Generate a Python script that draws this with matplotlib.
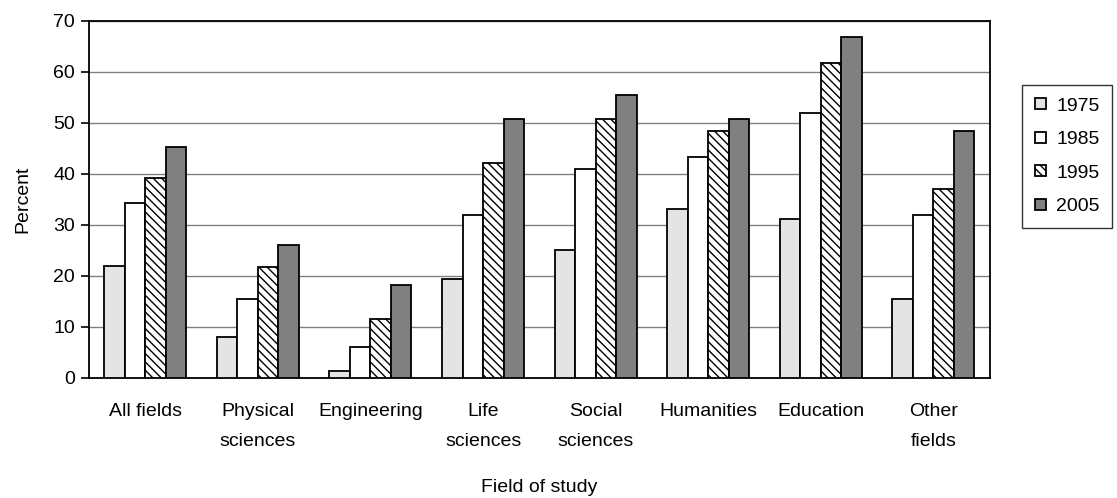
import numpy as np
import matplotlib
matplotlib.use('Agg')
import matplotlib.pyplot as plt

plt.rcParams['font.family'] = ['Liberation Sans', 'DejaVu Sans']
plt.rcParams['hatch.linewidth'] = 1.0

# 데이터
fields = ["All fields", "Physical\nsciences", "Engineering", "Life\nsciences",
          "Social\nsciences", "Humanities", "Education", "Other\nfields"]
years = ["1975", "1985", "1995", "2005"]
v1975 = [22, 8, 1.4, 19.5, 25, 33.1, 31.2, 15.5]
v1985 = [34.4, 15.5, 6.1, 32, 40.9, 43.4, 51.9, 32]
v1995 = [39.3, 21.8, 11.6, 42.1, 50.8, 48.4, 61.8, 37.1]
v2005 = [45.3, 26.1, 18.2, 50.8, 55.5, 50.8, 66.8, 48.4]
series = [v1975, v1985, v1995, v2005]

styles = [
    dict(facecolor='#e4e4e4', hatch=None),
    dict(facecolor='white', hatch=None),
    dict(facecolor='white', hatch='\\\\\\\\'),
    dict(facecolor='#808080', hatch=None),
]

fig = plt.figure(figsize=(11.17, 4.98), dpi=100)
ax = fig.add_axes([0.0797, 0.241, 0.8063, 0.717])

x = np.arange(len(fields))
w = 0.182
for i, (vals, st) in enumerate(zip(series, styles)):
    ax.bar(x + (i - 1.5) * w, vals, w, label=years[i], facecolor=st['facecolor'],
           hatch=st['hatch'], edgecolor='black', linewidth=1.3, zorder=3)

ax.set_xlim(-0.5, len(fields) - 0.5)
ax.set_ylim(0, 70)
ax.set_yticks(range(0, 71, 10))
ax.yaxis.grid(True, color='#808080', linewidth=1.0, zorder=0)
ax.set_xticks(x)
ax.set_xticklabels(fields, fontsize=14, linespacing=2.0)
ax.tick_params(axis='x', length=0, pad=18)
ax.tick_params(axis='y', labelsize=14, length=6, width=1.2, pad=4)
for s in ax.spines.values():
    s.set_linewidth(1.3)

ax.set_ylabel("Percent", fontsize=14, labelpad=16)
ax.set_xlabel("Field of study", fontsize=14, labelpad=21)

leg = fig.legend(loc='upper left', bbox_to_anchor=(0.915, 0.829), fontsize=14,
                 frameon=True, fancybox=False, edgecolor='black', handlelength=0.6,
                 handleheight=0.5, handletextpad=0.5, labelspacing=0.85,
                 borderpad=0.65, borderaxespad=0)
leg.get_frame().set_linewidth(1.0)

fig.savefig('out.png', dpi=100)
